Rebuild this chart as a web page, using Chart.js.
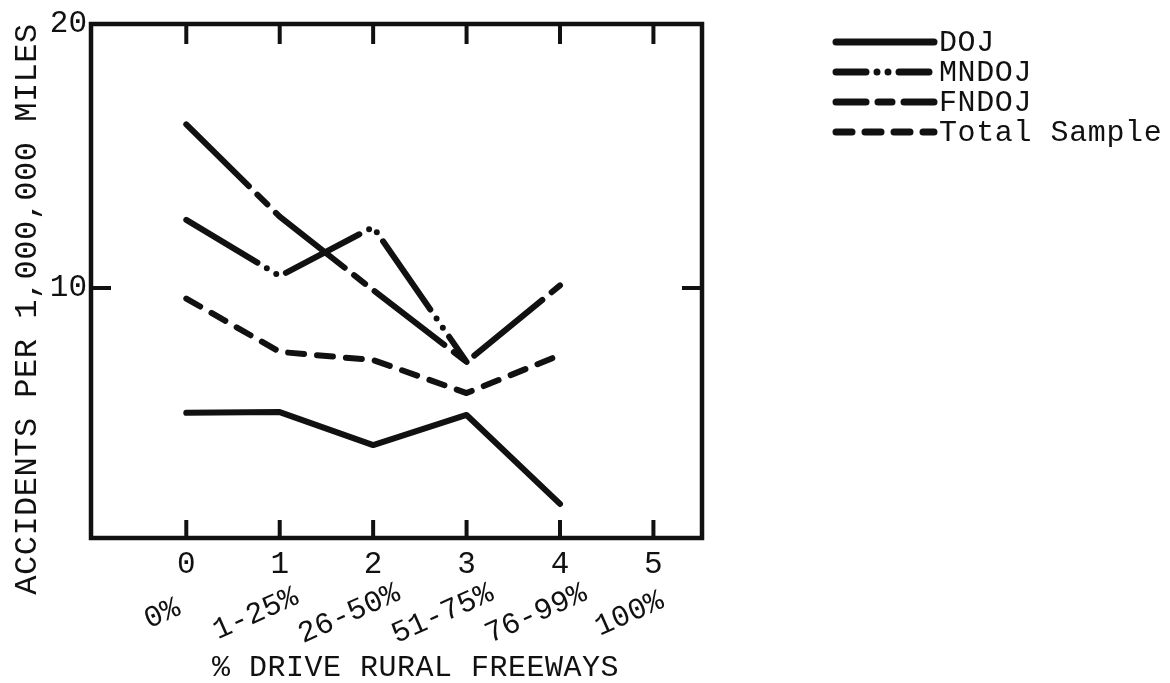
<!DOCTYPE html>
<html>
<head>
<meta charset="utf-8">
<title>Accidents per 1,000,000 miles</title>
<script src="https://cdn.jsdelivr.net/npm/chart.js@4.4.1/dist/chart.umd.min.js"></script>
<style>
    html, body { margin: 0; padding: 0; background: #fff; }
    #wrap { width: 1170px; height: 683px; }
</style>
</head>
<body>
<div id="wrap"><canvas id="accidentChart" width="1170" height="683"></canvas></div>
<script>
// ========================================
// DATA
// ========================================
const categories = [0, 1, 2, 3, 4, 5];
const rangeLabels = ['0%', '1-25%', '26-50%', '51-75%', '76-99%', '100%'];
const yTicks = [10, 20];

const seriesNames = ['DOJ', 'MNDOJ', 'FNDOJ', 'Total Sample'];
const dojValues = [5.27, 5.30, 4.05, 5.19, 1.82];
const mndojValues = [12.58, 10.45, 12.31, 7.2, null];
const fndojValues = [16.2, 12.7, 9.92, 7.2, 10.1];
const totalValues = [9.6, 7.58, 7.27, 6.02, 7.46];

const yTitle = 'ACCIDENTS PER 1,000,000 MILES';
const xTitle = '% DRIVE RURAL FREEWAYS';

// ========================================
// STYLE
// ========================================
const INK = '#111';
const FONT = '"Liberation Mono", "DejaVu Sans Mono", monospace';

// dash patterns (round caps make the 0-length dashes into dots)
const dashes = [
    [],
    [83, 11, 0, 11, 0, 11],
    [88, 12, 14, 12],
    [16, 13]
];

function toPoints(values) {
    return values.map((v, i) => ({ x: categories[i], y: v }));
}

const seriesValues = [dojValues, mndojValues, fndojValues, totalValues];

const datasets = seriesNames.map((name, i) => ({
    label: name,
    data: toPoints(seriesValues[i]),
    borderColor: INK,
    borderWidth: 6,
    borderDash: dashes[i],
    borderCapStyle: 'round',
    borderJoinStyle: 'round',
    pointRadius: 0,
    tension: 0,
    fill: false,
    spanGaps: false
}));

// ========================================
// FRAME, TICKS, LABELS AND LEGEND
// ========================================
function drawText(ctx, text, x, y, opts) {
    ctx.save();
    ctx.font = (opts.size || 26) + 'px ' + FONT;
    ctx.fillStyle = INK;
    ctx.letterSpacing = (opts.spacing || 0) + 'px';
    ctx.textAlign = opts.align || 'center';
    ctx.textBaseline = 'middle';
    ctx.translate(x, y);
    if (opts.rotate) ctx.rotate(opts.rotate);
    ctx.fillText(text, 0, 0);
    ctx.restore();
}

// shorter long dashes so each pattern fits in the legend swatch
function legendDash(pattern) {
    return pattern.map(v => (v > 40 ? 30 : v));
}

const paperPlugin = {
    id: 'paperFrame',
    beforeDatasetsDraw(chart) {
        const { ctx, chartArea: a } = chart;
        const xs = chart.scales.x;
        const ys = chart.scales.y;

        ctx.save();
        ctx.strokeStyle = INK;
        ctx.lineWidth = 4.5;
        ctx.lineCap = 'square';
        ctx.strokeRect(a.left, a.top, a.right - a.left, a.bottom - a.top);

        // inward ticks on top and bottom edges
        ctx.lineWidth = 4;
        ctx.lineCap = 'butt';
        categories.forEach(c => {
            const px = xs.getPixelForValue(c);
            ctx.beginPath();
            ctx.moveTo(px, a.bottom);
            ctx.lineTo(px, a.bottom - 18);
            ctx.moveTo(px, a.top);
            ctx.lineTo(px, a.top + 20);
            ctx.stroke();
        });

        // inward ticks on left and right edges
        yTicks.forEach(t => {
            if (t >= ys.max) return;
            const py = ys.getPixelForValue(t);
            ctx.beginPath();
            ctx.moveTo(a.left, py);
            ctx.lineTo(a.left + 20, py);
            ctx.moveTo(a.right, py);
            ctx.lineTo(a.right - 20, py);
            ctx.stroke();
        });
        ctx.restore();
    },
    afterDraw(chart) {
        const { ctx, chartArea: a } = chart;
        const xs = chart.scales.x;
        const ys = chart.scales.y;

        // y tick labels
        yTicks.forEach(t => {
            drawText(ctx, String(t), a.left - 4, ys.getPixelForValue(t), { align: 'right', size: 31 });
        });

        // x tick numbers and slanted range labels
        categories.forEach((c, i) => {
            const px = xs.getPixelForValue(c);
            drawText(ctx, String(c), px, a.bottom + 27, { size: 31 });
            drawText(ctx, rangeLabels[i], px - 24, a.bottom + 76, { size: 30, rotate: -24 * Math.PI / 180 });
        });

        // axis titles
        drawText(ctx, xTitle, (a.left + a.right) / 2 + 19, a.bottom + 130, { size: 30, spacing: 0.5 });
        drawText(ctx, yTitle, 28, (a.top + a.bottom) / 2 + 28, { size: 32, spacing: 0.5, rotate: -Math.PI / 2 });

        // legend, one row per dataset
        chart.data.datasets.forEach((ds, i) => {
            const rowY = 42 + i * 30;
            ctx.save();
            ctx.strokeStyle = INK;
            ctx.lineWidth = 7;
            ctx.lineCap = 'round';
            ctx.setLineDash(ds.borderDash.length ? legendDash(ds.borderDash) : []);
            ctx.beginPath();
            ctx.moveTo(836, rowY);
            ctx.lineTo(934, rowY);
            ctx.stroke();
            ctx.restore();
            drawText(ctx, ds.label, 939, rowY + 1, { align: 'left', size: 30, spacing: 0.6 });
        });
    }
};

// ========================================
// CHART
// ========================================
new Chart(document.getElementById('accidentChart'), {
    type: 'line',
    data: { datasets: datasets },
    options: {
        responsive: false,
        animation: false,
        devicePixelRatio: 1,
        layout: {
            padding: { left: 91, top: 24, right: 468, bottom: 145 }
        },
        plugins: {
            legend: { display: false },
            tooltip: { enabled: false }
        },
        scales: {
            x: { type: 'linear', min: -1.02, max: 5.52, display: false },
            y: { type: 'linear', min: 0.53, max: 20, display: false }
        }
    },
    plugins: [paperPlugin]
});
</script>
</body>
</html>
